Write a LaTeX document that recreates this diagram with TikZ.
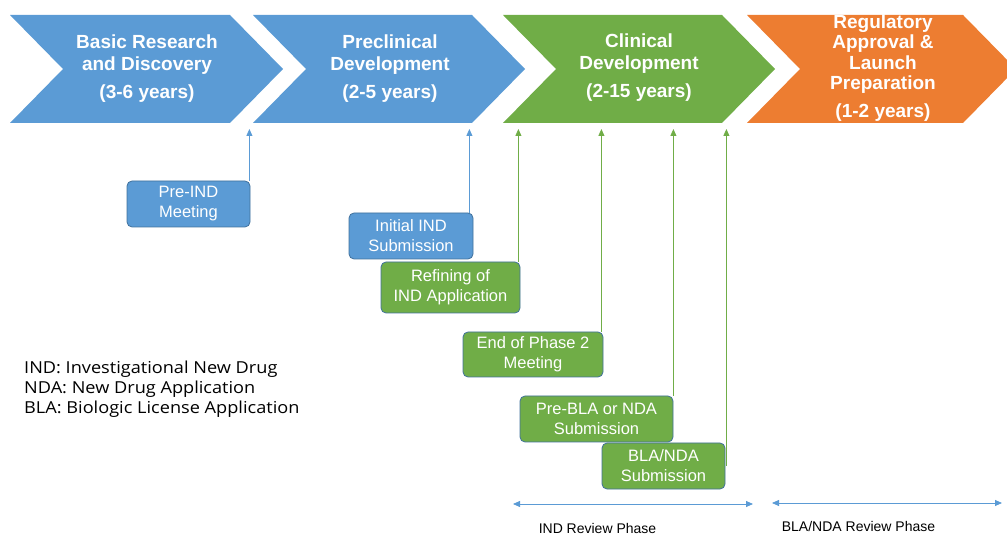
\documentclass[tikz,border=0pt]{standalone}
\usepackage{fontspec}
\setmainfont{Liberation Sans}
\newfontfamily\legendfont[FakeStretch=1.1]{Open Sans}
\usetikzlibrary{arrows.meta}
\usetikzlibrary{calc}

\definecolor{phaseBlue}{HTML}{5B9BD5}
\definecolor{phaseGreen}{HTML}{70AD47}
\definecolor{phaseOrange}{HTML}{ED7D31}
\definecolor{boxBorder}{HTML}{41719C}

\begin{document}
\begin{tikzpicture}[x=1pt, y=-1pt,
    phaseText/.style={text=white, font=\bfseries\fontsize{19}{22}\selectfont, align=center},
    milestone/.style={rectangle, rounded corners=5pt, draw=boxBorder, line width=0.8pt, text=white, font=\fontsize{16.5}{20}\selectfont, align=center, inner sep=0pt},
    upArrow/.style={-{Triangle[width=6pt,length=7pt]}, line width=0.8pt},
    spanArrow/.style={{Triangle[width=6pt,length=7pt]}-{Triangle[width=6pt,length=7pt]}, line width=0.8pt, phaseBlue},
    phaseLabel/.style={font=\fontsize{14}{16}\selectfont}]
    \useasboundingbox (0,0) rectangle (1007,534);

    % chevrons
    \foreach \xl/\xr/\col in {10/230/phaseBlue, 253/472/phaseBlue, 503/722/phaseGreen, 747/963/phaseOrange}
        \fill[\col] (\xl,15) -- (\xr,15) -- (\xr+53,69) -- (\xr,123) -- (\xl,123) -- (\xl+53,69) -- cycle;

    \node [phaseText] (basic) at (147,69) {Basic Research\\and Discovery\\[6pt](3-6 years)};
    \node [phaseText] (preclinical) at (390,69) {Preclinical\\Development\\[6pt](2-5 years)};
    \node [phaseText] (clinical) at (639,68) {Clinical\\Development\\[6pt](2-15 years)};
    \node [phaseText, font=\bfseries\fontsize{19}{20.5}\selectfont] (regulatory) at (883,68) {Regulatory\\Approval \&\\Launch\\Preparation\\[7pt](1-2 years)};

    \coordinate (phaseBase) at (0,129);

    % milestones
    \node [milestone, fill=phaseBlue, minimum width=123, minimum height=46] (preIND) at (188.5,204) {Pre-IND\\Meeting};
    \node [milestone, fill=phaseBlue, minimum width=124, minimum height=46] (initialIND) at (411,236) {Initial IND\\Submission};
    \node [milestone, fill=phaseGreen, minimum width=139, minimum height=51] (refining) at (450.5,287.5) {Refining of\\IND Application};
    \node [milestone, fill=phaseGreen, minimum width=140, minimum height=45] (endPhase) at (533,354.5) {End of Phase 2\\Meeting};
    \node [milestone, fill=phaseGreen, minimum width=153, minimum height=46] (preBLA) at (596.5,419) {Pre-BLA or NDA\\Submission};
    \node [milestone, fill=phaseGreen, minimum width=123, minimum height=46] (blaNDA) at (663.5,466) {BLA/NDA\\Submission};

    \draw [upArrow, phaseBlue] ($(preIND.north east)+(-1,0)$) -- ($(preIND.north east |- phaseBase)+(-1,0)$);
    \draw [upArrow, phaseBlue] ($(initialIND.north east)+(-4,0)$) -- ($(initialIND.north east |- phaseBase)+(-4,0)$);
    \draw [upArrow, phaseGreen] ($(refining.north east)+(-2,0)$) -- ($(refining.north east |- phaseBase)+(-2,0)$);
    \draw [upArrow, phaseGreen] ($(endPhase.north east)+(-2,0)$) -- ($(endPhase.north east |- phaseBase)+(-2,0)$);
    \draw [upArrow, phaseGreen] (preBLA.north east) -- (preBLA.north east |- phaseBase);
    \draw [upArrow, phaseGreen] ($(blaNDA.east)+(1,0)$) -- ($(blaNDA.east |- phaseBase)+(1,0)$);

    % review phases
    \coordinate (indStart) at (513,504);
    \coordinate (indEnd) at (753,504);
    \coordinate (blaStart) at (772,503);
    \coordinate (blaEnd) at (1002,503);
    \draw [spanArrow] (indStart) -- (indEnd);
    \draw [spanArrow] (blaStart) -- (blaEnd);
    \node [phaseLabel] (indReview) at (597.5,528) {IND Review Phase};
    \node [phaseLabel] (blaReview) at (858.5,526) {BLA/NDA Review Phase};

    % legend
    \node [anchor=west, align=left, inner sep=0pt, font=\legendfont\fontsize{16.5}{20}\selectfont] (legend) at (24,389) {IND: Investigational New Drug\\NDA: New Drug Application\\BLA: Biologic License Application};
\end{tikzpicture}
\end{document}
